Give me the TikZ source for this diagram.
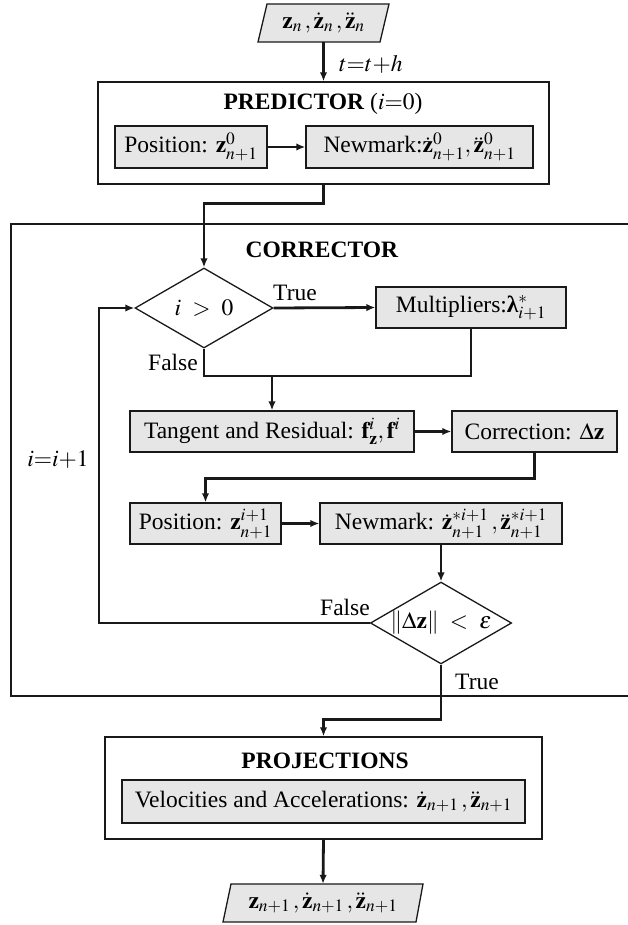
\documentclass[tikz,border=0pt]{standalone}
\usepackage{amsmath,amsbsy}
\usepackage{mathptmx}
\usepackage{fontspec}
\setmainfont{Liberation Serif}
\usetikzlibrary{arrows.meta,shapes.geometric,calc}
\definecolor{boxgray}{RGB}{230,230,230}
\definecolor{ink}{RGB}{25,25,25}
\newcommand{\blam}{\text{\bfseries λ}}
\tikzset{
  procbox/.style={draw=ink, fill=boxgray, line width=1.3pt, inner sep=0pt, minimum height=41pt},
  frame/.style={draw=ink, line width=1.4pt, inner sep=0pt},
  dia/.style={diamond, draw=ink, line width=1.3pt, inner sep=0pt, aspect=1.725, minimum width=138pt, minimum height=80pt},
  para/.style={draw=ink, fill=boxgray, line width=1.3pt},
  conn/.style={draw=ink, line width=2.8pt, -{Latex[length=9pt,width=7.5pt]}},
  plain/.style={draw=ink, line width=2.8pt},
  lbl/.style={inner sep=0pt},
}
\begin{document}
\begin{tikzpicture}[x=1pt,y=-1pt,font=\fontsize{23.5}{28}\selectfont]
\useasboundingbox (0,0) rectangle (627,925);
% outer frames
\node[frame, minimum width=451pt, minimum height=102pt] (pred) at (323.5,133) {};
\node[frame, minimum width=629pt, minimum height=472pt] (corrbox) at (325.5,460) {};
\node[frame, minimum width=437pt, minimum height=102pt] (proj) at (323.5,788) {};
% titles
\node[lbl] (predt) at (323,104) {\textbf{PREDICTOR} ($i{=}0$)};
\node[lbl] (corrt) at (322,250) {\textbf{CORRECTOR}};
\node[lbl] (projt) at (325,761) {\textbf{PROJECTIONS}};
% input / output parallelograms
\path[para] (258,42) -- (380,42) -- (389,4) -- (267,4) -- cycle;
\node[lbl, minimum width=110pt, minimum height=38pt] (in) at (323.5,23) {$\mathbf{z}_n\,,\dot{\mathbf{z}}_n\,,\ddot{\mathbf{z}}_n$};
\path[para] (223,922) -- (416,922) -- (423,884) -- (231,884) -- cycle;
\node[lbl, minimum width=180pt, minimum height=38pt] (out) at (323,903) {$\mathbf{z}_{n+1}\,,\dot{\mathbf{z}}_{n+1}\,,\ddot{\mathbf{z}}_{n+1}$};
% predictor boxes
\node[procbox, minimum width=152pt, minimum height=42pt] (pos0) at (191,147) {Position: $\mathbf{z}^0_{n+1}$};
\node[procbox, minimum width=227pt, minimum height=42pt] (nm0) at (419.5,147) {Newmark:$\dot{\mathbf{z}}^0_{n+1},\ddot{\mathbf{z}}^0_{n+1}$};
% corrector
\node[dia] (d1) at (204,308) {$i\ >\ 0$};
\node[procbox, minimum width=190pt] (mult) at (471,307.5) {Multipliers:$\blam^*_{i+1}$};
\node[procbox, minimum width=284pt] (tan) at (272,431.5) {Tangent and Residual: $\mathbf{f}^i_{\mathbf{z}},\mathbf{f}^i$};
\node[procbox, minimum width=165pt] (corr) at (534.5,431.5) {Correction: $\Delta\mathbf{z}$};
\node[procbox, minimum width=151pt] (pos1) at (205.5,523.5) {Position: $\mathbf{z}^{i+1}_{n+1}$};
\node[procbox, minimum width=242pt] (nm1) at (441,523.5) {Newmark: $\dot{\mathbf{z}}^{*i+1}_{n+1}\,,\ddot{\mathbf{z}}^{*i+1}_{n+1}$};
\node[dia] (d2) at (441,623) {$\|\Delta\mathbf{z}\|\ <\ \varepsilon$};
% projections
\node[procbox, minimum width=403pt, minimum height=43pt] (vel) at (323.5,801.5) {Velocities and Accelerations: $\dot{\mathbf{z}}_{n+1}\,,\ddot{\mathbf{z}}_{n+1}$};
% helper coordinates
\coordinate (j1) at (272,376);
\coordinate (lx) at (99,460);
% connectors
\draw[conn] (in.south) -- (pred.north);
\node[lbl, anchor=west] (tlab) at (339,64) {$t{=}t{+}h$};
\draw[conn] (pos0.east) -- (nm0.west);
\draw[conn] (pred.south) -- ++(0,19) -| (d1.north);
\draw[conn] (d1.east) -- (mult.west);
\node[lbl] (true1) at (295,293) {True};
\node[lbl] (false1) at (173,362) {False};
\draw[plain] (d1.south) |- (mult.south |- j1) -- (mult.south);
\draw[conn] (j1) -- (tan.north);
\draw[conn] (tan.east) -- (corr.west);
\draw[conn] (corr.south) -- ++(0,26) -| (pos1.north);
\draw[conn] (pos1.east) -- (nm1.west);
\draw[conn] (nm1.south) -- (d2.north);
\draw[conn] (d2.west) -- (d2.west -| lx) -- (d1.west -| lx) -- (d1.west);
\node[lbl] (false2) at (345,607) {False};
\node[lbl] (inc) at (58,460) {$i{=}i{+}1$};
\draw[conn] (d2.south) -- ++(0,55) -| (proj.north);
\node[lbl] (true2) at (477,682) {True};
\draw[conn] (proj.south) -- (out.north);
\end{tikzpicture}
\end{document}
